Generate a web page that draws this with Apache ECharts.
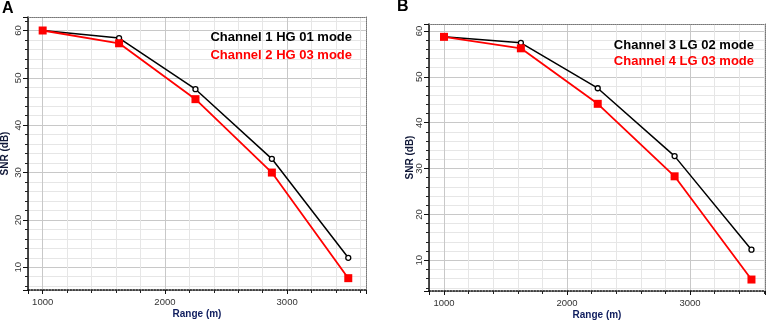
<!DOCTYPE html>
<html>
<head>
<meta charset="utf-8">
<script src="https://cdn.jsdelivr.net/npm/echarts@6/dist/echarts.min.js"></script>
<style>
  html, body { margin: 0; padding: 0; background: #fff; }
  #chart { width: 768px; height: 320px; }
</style>
</head>
<body>
<div id="chart"></div>
<script>
// range points (m), same for both panels
const ranges = [1000, 1625, 2250, 2875, 3500]

// panel A
const ch1HG01 = [60.0, 58.4, 47.6, 32.9, 12.0]
const ch2HG03 = [60.0, 57.3, 45.5, 30.0, 7.7]
// panel B
const ch3LG02 = [58.7, 57.4, 47.5, 32.7, 12.3]
const ch4LG03 = [58.7, 56.2, 44.1, 28.3, 5.8]

const panelNames = ['A', 'B']
const legendA = ['Channel 1 HG 01 mode', 'Channel 2 HG 03 mode']
const legendB = ['Channel 3 LG 02 mode', 'Channel 4 LG 03 mode']

const xRanges = [[880, 3645], [878, 3610]]
const yRanges = [[5.2, 62.85], [3.3, 61.5]]

const FONT = 'Liberation Sans, Arial, sans-serif'

const chart = echarts.init(document.getElementById('chart'))

// outerBoundsMode none: keep the plot boxes where they are
const grids = [
  { left: 28, right: 402, top: 17, bottom: 30, outerBoundsMode: 'none', containLabel: false },
  { left: 429, right: 3, top: 24, bottom: 29, outerBoundsMode: 'none', containLabel: false },
]

const xAxes = []
const yAxes = []
grids.forEach((g, i) => {
  const [xmin, xmax] = xRanges[i]
  const [ymin, ymax] = yRanges[i]
  // minor (grid lines every 200 / 2, small ticks)
  xAxes.push({
    type: 'value', gridIndex: i, min: xmin, max: xmax, position: 'bottom',
    minInterval: 200, maxInterval: 200,
    axisLine: { show: false, onZero: false },
    axisTick: { show: true, length: 3, lineStyle: { color: '#222' } },
    axisLabel: { show: false },
    splitLine: { show: true, lineStyle: { color: '#e6e6e6', width: 1 } },
  })
  yAxes.push({
    type: 'value', gridIndex: i, min: ymin, max: ymax, position: 'left',
    minInterval: 2, maxInterval: 2,
    axisLine: { show: false, onZero: false },
    axisTick: { show: true, length: 3, lineStyle: { color: '#222' } },
    axisLabel: { show: false },
    splitLine: { show: true, lineStyle: { color: '#e6e6e6', width: 1 } },
  })
  // major (labels, long ticks, darker grid lines) - the series use these
  xAxes.push({
    type: 'value', gridIndex: i, min: xmin, max: xmax, position: 'bottom',
    minInterval: 1000, maxInterval: 1000,
    name: 'Range (m)', nameLocation: 'middle', nameGap: 19, nameMoveOverlap: false,
    nameTextStyle: { color: '#0f1d5e', fontWeight: 'bold', fontSize: 10, fontFamily: FONT },
    axisLine: { show: true, onZero: false, lineStyle: { color: '#111', width: 1.5, type: 'dotted' } },
    axisTick: { show: true, length: 4, lineStyle: { color: '#111' } },
    axisLabel: {
      color: '#333', fontSize: 9.5, fontFamily: FONT, margin: 7,
      formatter: v => (v % 1000 === 0 ? String(v) : ''),
    },
    splitLine: { show: true, lineStyle: { color: '#c8c8c8', width: 1 } },
  })
  yAxes.push({
    type: 'value', gridIndex: i, min: ymin, max: ymax, position: 'left',
    minInterval: 10, maxInterval: 10,
    name: 'SNR (dB)', nameLocation: 'middle', nameGap: i === 0 ? 18 : 14, nameMoveOverlap: false,
    nameTextStyle: { color: '#101838', fontWeight: 'bold', fontSize: 10, fontFamily: FONT },
    axisLine: { show: true, onZero: false, lineStyle: { color: '#111', width: 1.5 } },
    axisTick: { show: true, length: 5, lineStyle: { color: '#111' } },
    axisLabel: {
      color: '#333', fontSize: 9.5, fontFamily: FONT, rotate: 90, margin: 5,
      formatter: v => (v % 10 === 0 ? String(v) : ''),
    },
    splitLine: { show: true, lineStyle: { color: '#c8c8c8', width: 1 } },
  })
  // dotted frame on top / right
  xAxes.push({
    type: 'value', gridIndex: i, min: xmin, max: xmax, position: 'top',
    axisLine: { show: true, onZero: false, lineStyle: { color: '#777', width: 1, type: 'dotted' } },
    axisTick: { show: false }, axisLabel: { show: false }, splitLine: { show: false },
  })
  yAxes.push({
    type: 'value', gridIndex: i, min: ymin, max: ymax, position: 'right',
    axisLine: { show: true, onZero: false, lineStyle: { color: '#777', width: 1, type: 'dotted' } },
    axisTick: { show: false }, axisLabel: { show: false }, splitLine: { show: false },
  })
})

function blackSeries(name, vals, gi) {
  return {
    name, type: 'line', xAxisIndex: gi * 3 + 1, yAxisIndex: gi * 3 + 1,
    data: ranges.map((r, k) => [r, vals[k]]),
    symbol: 'circle', symbolSize: 5,
    itemStyle: { color: '#fff', borderColor: '#000', borderWidth: 1.3 },
    lineStyle: { color: '#000', width: 1.5 },
    silent: true, animation: false,
  }
}
function redSeries(name, vals, gi) {
  return {
    name, type: 'line', xAxisIndex: gi * 3 + 1, yAxisIndex: gi * 3 + 1,
    data: ranges.map((r, k) => [r, vals[k]]),
    symbol: 'rect', symbolSize: 8,
    itemStyle: { color: '#ff0000' },
    lineStyle: { color: '#ff0000', width: 1.8 },
    silent: true, animation: false,
  }
}

const labelStyle = { fontFamily: FONT, fontWeight: 'bold', fontSize: 13 }

chart.setOption({
  animation: false,
  backgroundColor: '#fff',
  title: [
    { text: panelNames[0], left: 2, top: 1, padding: 0, textStyle: { fontFamily: FONT, fontWeight: 'bold', fontSize: 16, color: '#000' } },
    { text: panelNames[1], left: 397, top: -1, padding: 0, textStyle: { fontFamily: FONT, fontWeight: 'bold', fontSize: 16, color: '#000' } },
    { text: legendA[0], right: 416, top: 31, padding: 0, textStyle: { ...labelStyle, color: '#000' } },
    { text: legendA[1], right: 416, top: 49, padding: 0, textStyle: { ...labelStyle, color: '#ff0000' } },
    { text: legendB[0], right: 14, top: 39, padding: 0, textStyle: { ...labelStyle, color: '#000' } },
    { text: legendB[1], right: 14, top: 55, padding: 0, textStyle: { ...labelStyle, color: '#ff0000' } },
  ],
  grid: grids,
  xAxis: xAxes,
  yAxis: yAxes,
  series: [
    blackSeries(legendA[0], ch1HG01, 0),
    redSeries(legendA[1], ch2HG03, 0),
    blackSeries(legendB[0], ch3LG02, 1),
    redSeries(legendB[1], ch4LG03, 1),
  ],
})
</script>
</body>
</html>
